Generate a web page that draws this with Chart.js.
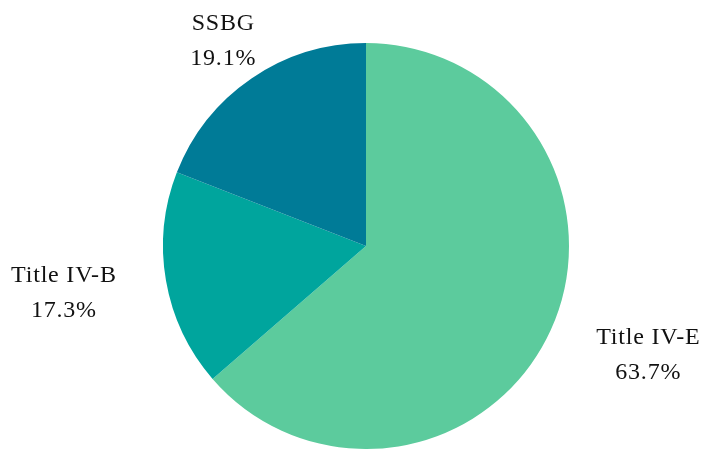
<!DOCTYPE html>
<html>
<head>
<meta charset="utf-8">
<script src="https://cdn.jsdelivr.net/npm/chart.js@4/dist/chart.umd.min.js"></script>
<style>
  html, body { margin: 0; padding: 0; background: #fff; }
  #wrap { width: 714px; height: 449px; }
</style>
</head>
<body>
<div id="wrap"><canvas id="pieChart"></canvas></div>
<script>
// Funding sources and their shares (percent)
const categories = ['Title IV-E', 'Title IV-B', 'SSBG'];
const shares = [63.7, 17.3, 19.1];
const sliceColors = ['#5ccb9d', '#00a59d', '#007b97'];

// Draws the two-line labels outside each slice
const outsideLabels = {
    id: 'outsideLabels',
    afterDatasetsDraw(chart) {
        const ctx = chart.ctx;
        const arcs = chart.getDatasetMeta(0).data;
        ctx.save();
        ctx.font = '24px "Liberation Serif", serif';
        ctx.letterSpacing = '0.8px';
        ctx.fillStyle = '#111';
        ctx.textBaseline = 'middle';
        arcs.forEach((arc, i) => {
            const mid = (arc.startAngle + arc.endAngle) / 2;
            const dx = Math.cos(mid);
            const dy = Math.sin(mid);
            const dist = arc.outerRadius + 50;
            const ax = arc.x + dist * dx;
            const ay = arc.y + dist * dy + 4;
            let align = 'center';
            if (dx > 0.7) align = 'left';
            else if (dx < -0.7) align = 'right';
            const lines = [categories[i], shares[i].toFixed(1) + '%'];
            const w = Math.max(...lines.map(t => ctx.measureText(t).width));
            // center each line within the label block
            let cx = ax;
            if (align === 'left') cx = ax + w / 2;
            if (align === 'right') cx = ax - w / 2;
            ctx.textAlign = 'center';
            const lh = 35;
            ctx.fillText(lines[0], cx, ay - lh / 2);
            ctx.fillText(lines[1], cx, ay + lh / 2);
        });
        ctx.restore();
    }
};

new Chart(document.getElementById('pieChart').getContext('2d'), {
    type: 'pie',
    data: {
        labels: categories,
        datasets: [{
            data: shares,
            backgroundColor: sliceColors,
            borderWidth: 0
        }]
    },
    options: {
        responsive: true,
        maintainAspectRatio: false,
        animation: false,
        layout: {
            padding: { left: 163, right: 145, top: 43, bottom: 0 }
        },
        plugins: {
            legend: { display: false },
            tooltip: { enabled: false }
        }
    },
    plugins: [outsideLabels]
});
</script>
</body>
</html>
